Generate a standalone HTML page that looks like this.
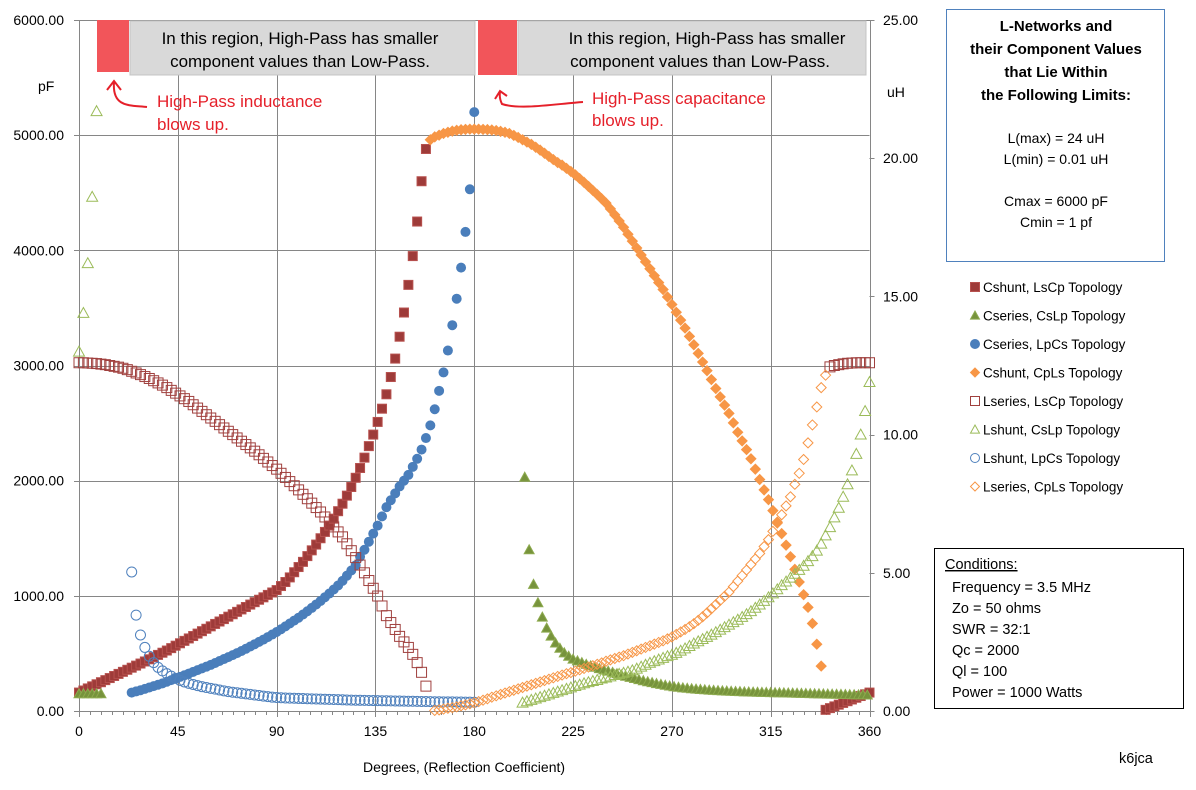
<!DOCTYPE html>
<html><head><meta charset="utf-8">
<style>
html,body{margin:0;padding:0;background:#fff;}
svg{display:block;font-family:"Liberation Sans",Arial,sans-serif;}
</style></head>
<body>
<svg id="chart" width="1196" height="790" viewBox="0 0 1196 790" xmlns="http://www.w3.org/2000/svg">
<rect x="0" y="0" width="1196" height="790" fill="#fff"/>
<g id="grid"></g>
<g id="axes"></g>
<g id="series"></g>

<!-- top annotations -->
<g>
<rect x="97" y="20" width="32" height="52" fill="#F2555A"/>
<rect x="130" y="21" width="345" height="54" fill="#D9D9D9" stroke="#C4C4C4"/>
<text x="300" y="44" font-size="17" text-anchor="middle" fill="#000">In this region, High-Pass has smaller</text>
<text x="300" y="67" font-size="17" text-anchor="middle" fill="#000">component values than Low-Pass.</text>
<rect x="478" y="20" width="39" height="55" fill="#F2555A"/>
<rect x="518" y="21" width="348" height="54" fill="#D9D9D9" stroke="#C4C4C4"/>
<text x="707" y="44" font-size="17" text-anchor="middle" fill="#000">In this region, High-Pass has smaller</text>
<text x="700" y="67" font-size="17" text-anchor="middle" fill="#000">component values than Low-Pass.</text>
<text x="157" y="107" font-size="17" fill="#E5202A">High-Pass inductance</text>
<text x="157" y="130" font-size="17" fill="#E5202A">blows up.</text>
<path d="M147,107 C130,105 112,108 114,82 M107,90 L114,81 L121,90" fill="none" stroke="#E5202A" stroke-width="2"/>
<text x="592" y="104" font-size="17" fill="#E5202A">High-Pass capacitance</text>
<text x="592" y="126" font-size="17" fill="#E5202A">blows up.</text>
<path d="M583,102 C555,104 520,110 502,104 Q499,98 500,92 M495,99 L500,91 L507,96" fill="none" stroke="#E5202A" stroke-width="2"/>
</g>

<!-- info box -->
<g>
<rect x="946.5" y="9.5" width="218" height="252" fill="#fff" stroke="#4F81BD"/>
<g font-size="15" font-weight="bold" text-anchor="middle" fill="#000">
<text x="1056" y="31">L-Networks and</text>
<text x="1056" y="54">their Component Values</text>
<text x="1056" y="77">that Lie Within</text>
<text x="1056" y="100">the Following Limits:</text>
</g>
<g font-size="14" text-anchor="middle" fill="#000">
<text x="1056" y="143">L(max) = 24 uH</text>
<text x="1056" y="164">L(min) = 0.01 uH</text>
<text x="1056" y="206">Cmax = 6000 pF</text>
<text x="1056" y="227">Cmin = 1 pf</text>
</g>
</g>

<g id="legend"></g>

<!-- conditions -->
<g>
<rect x="934.5" y="548.5" width="249" height="160" fill="#fff" stroke="#000"/>
<g font-size="14.5" fill="#000">
<text x="945" y="569" text-decoration="underline">Conditions:</text>
<text x="952" y="592">Frequency = 3.5 MHz</text>
<text x="952" y="613">Zo = 50 ohms</text>
<text x="952" y="634">SWR = 32:1</text>
<text x="952" y="655">Qc = 2000</text>
<text x="952" y="676">Ql =  100</text>
<text x="952" y="697">Power = 1000 Watts</text>
</g>
</g>
<text x="1119" y="763" font-size="14.5" fill="#000">k6jca</text>
</svg>
<script>
// ---- data ----
const xTicks = [0,45,90,135,180,225,270,315,360];
const leftTicks = ["0.00","1000.00","2000.00","3000.00","4000.00","5000.00","6000.00"];
const rightTicks = ["0.00","5.00","10.00","15.00","20.00","25.00"];
const legendLabels = ["Cshunt, LsCp Topology","Cseries, CsLp Topology","Cseries, LpCs Topology","Cshunt, CpLs Topology","Lseries, LsCp Topology","Lshunt, CsLp Topology","Lshunt, LpCs Topology","Lseries, CpLs Topology"];
const stepDeg = 2;

// Cshunt LsCp (pF)
const cshuntLsCpStart = [0, 340];
const cshuntLsCpA = [160,178,196,214,232,250,268,286,304,322,340,358,376,394,412,430,449,468,487,506,525,546,567,588,609,630,651,672,693,714,735,756,777,798,819,840,861,882,903,924,945,966,987,1008,1029,1050,1085,1120,1160,1205,1250,1295,1345,1395,1445,1500,1555,1610,1670,1735,1800,1870,1945,2025,2110,2200,2300,2400,2510,2625,2750,2900,3060,3250,3460,3700,3950,4250,4600,4880];
const cshuntLsCpB = [10,25,40,55,70,85,100,115,130,145,160];
// Cseries CsLp (pF)
const cseriesCsLpStart = [0, 203];
const cseriesCsLpA = [150,150,150,150,150,150];
const cseriesCsLpB = [2030,1400,1100,940,815,720,650,590,545,505,475,450,435,420,405,392,380,368,357,346,335,324,313,302,292,282,272,263,254,246,238,231,224,217,211,206,201,197,193,190,187,184,181,179,177,175,173,171,169,168,166,165,164,163,162,161,160,159,158,157,156,155,154,153,152,151,150,149,148,147,146,145,144,143,142,141,140,140,139];
// Cseries LpCs (pF)
const cseriesLpCsStart = [24];
const cseriesLpCs = [160,170,180,192,204,216,228,240,254,268,282,296,310,325,340,355,370,385,400,417,434,451,468,485,503,521,540,560,580,600,620,642,664,686,710,735,760,785,810,838,866,895,925,955,988,1020,1055,1090,1130,1175,1220,1265,1340,1400,1470,1540,1610,1690,1770,1830,1890,1950,2000,2050,2120,2190,2270,2370,2480,2620,2780,2940,3130,3350,3580,3850,4160,4530,5200];
// Cshunt CpLs (pF)
const cshuntCpLsStart = [160];
const cshuntCpLs = [4960,4985,5000,5015,5025,5035,5042,5047,5050,5052,5052,5052,5050,5048,5045,5040,5033,5025,5015,4998,4980,4960,4940,4920,4895,4870,4843,4815,4788,4762,4740,4712,4685,4655,4623,4590,4555,4520,4485,4448,4410,4360,4308,4255,4200,4140,4080,4020,3960,3900,3840,3780,3720,3660,3595,3530,3462,3394,3325,3253,3180,3105,3030,2955,2878,2800,2728,2656,2584,2502,2420,2345,2270,2190,2100,2010,1920,1835,1740,1640,1540,1440,1340,1230,1120,1010,900,760,580,390];
// Lseries LsCp (uH)
const lseriesLsCpStart = [0, 342];
const lseriesLsCpA = [12.6,12.6,12.59,12.58,12.57,12.55,12.53,12.5,12.47,12.44,12.4,12.35,12.29,12.23,12.17,12.1,12.03,11.95,11.87,11.79,11.7,11.6,11.5,11.4,11.3,11.2,11.08,10.96,10.84,10.72,10.6,10.48,10.36,10.24,10.12,10.0,9.88,9.76,9.64,9.52,9.4,9.27,9.14,9.01,8.88,8.75,8.6,8.45,8.3,8.15,8.0,7.84,7.68,7.52,7.36,7.2,7.02,6.84,6.66,6.48,6.3,6.05,5.8,5.55,5.28,5.0,4.72,4.44,4.16,3.8,3.45,3.2,2.95,2.7,2.5,2.3,2.05,1.75,1.4,0.9];
const lseriesLsCpB = [12.45,12.5,12.53,12.56,12.58,12.59,12.6,12.6,12.6,12.6];
// Lshunt CsLp (uH)
const lshuntCsLpStart = [0, 202];
const lshuntCsLpA = [13.0,14.4,16.2,18.6,21.7];
const lshuntCsLpB = [0.3,0.35,0.4,0.45,0.5,0.55,0.6,0.65,0.7,0.75,0.8,0.85,0.9,0.95,1.0,1.04,1.08,1.12,1.17,1.21,1.25,1.3,1.34,1.38,1.42,1.47,1.53,1.6,1.67,1.74,1.8,1.86,1.92,1.98,2.03,2.1,2.18,2.26,2.35,2.44,2.52,2.6,2.68,2.76,2.85,2.94,3.03,3.12,3.21,3.3,3.4,3.5,3.61,3.73,3.85,3.98,4.11,4.25,4.4,4.55,4.68,4.82,4.96,5.1,5.25,5.42,5.6,5.8,6.05,6.35,6.65,7.0,7.35,7.75,8.2,8.7,9.3,10.0,10.85,11.9];
// Lshunt LpCs (uH)
const lshuntLpCsStart = [24];
const lshuntLpCs = [5.03,3.47,2.75,2.3,1.98,1.75,1.58,1.45,1.35,1.26,1.18,1.11,1.05,1.0,0.96,0.92,0.88,0.85,0.82,0.79,0.76,0.73,0.7,0.68,0.66,0.64,0.62,0.6,0.58,0.56,0.54,0.52,0.5,0.49,0.48,0.47,0.465,0.46,0.455,0.45,0.445,0.44,0.435,0.43,0.425,0.42,0.415,0.41,0.405,0.4,0.395,0.39,0.387,0.384,0.381,0.378,0.375,0.372,0.369,0.366,0.363,0.36,0.357,0.354,0.351,0.348,0.345,0.342,0.339,0.336,0.334,0.332,0.33,0.328,0.326,0.324,0.322,0.32,0.318];
// Lseries CpLs (uH)
const lseriesCpLsStart = [162];
const lseriesCpLs = [0.02,0.04,0.07,0.1,0.12,0.15,0.19,0.22,0.26,0.3,0.34,0.39,0.44,0.5,0.55,0.6,0.65,0.7,0.75,0.8,0.85,0.9,0.95,1.0,1.05,1.1,1.15,1.2,1.25,1.3,1.35,1.39,1.44,1.49,1.54,1.59,1.64,1.69,1.74,1.8,1.85,1.9,1.95,2.0,2.06,2.12,2.18,2.24,2.3,2.36,2.42,2.48,2.54,2.61,2.68,2.77,2.86,2.95,3.05,3.16,3.28,3.41,3.55,3.7,3.85,4.0,4.15,4.3,4.5,4.7,4.9,5.1,5.3,5.5,5.7,5.95,6.2,6.5,6.8,7.1,7.42,7.75,8.2,8.6,9.1,9.7,10.35,11.0,11.7,12.15];

// ---- scales ----
const PX0 = 79, PX1 = 869.5, PY0 = 711, PY1 = 20;
const xS = d => PX0 + d / 360 * (PX1 - PX0);
const yL = v => PY0 - v / 6000 * (PY0 - PY1);
const yR = v => PY0 - v / 25 * (PY0 - PY1);
const NS = "http://www.w3.org/2000/svg";
function mk(tag, attrs, parent) {
  const e = document.createElementNS(NS, tag);
  for (const k in attrs) e.setAttribute(k, attrs[k]);
  parent.appendChild(e);
  return e;
}
const grid = document.getElementById('grid');
const axes = document.getElementById('axes');
const series = document.getElementById('series');
const legend = document.getElementById('legend');

// gridlines
for (let i = 1; i < leftTicks.length; i++) {
  const y = Math.round(yL(i * 1000)) + 0.5;
  const l = mk('line', {x1: PX0, x2: PX1, y1: y, y2: y, stroke: '#868686', 'stroke-width': 1}, grid);
  
  
}
xTicks.forEach(d => {
  if (d === 0) return;
  const x = Math.round(xS(d)) + 0.5;
  const l = mk('line', {x1: x, x2: x, y1: PY1, y2: PY0, stroke: '#868686', 'stroke-width': 1}, grid);
  
  
});
// axes lines
const ax = mk('line', {x1: PX0 + 0.5, x2: PX0 + 0.5, y1: PY1, y2: PY0 + 5, stroke: '#868686'}, axes);


const axb = mk('line', {x1: PX0 - 5, x2: PX1, y1: PY0 + 0.5, y2: PY0 + 0.5, stroke: '#868686'}, axes);


const axr = mk('line', {x1: Math.round(PX1) + 0.5, x2: Math.round(PX1) + 0.5, y1: PY1, y2: PY0 + 5, stroke: '#868686'}, axes);


// minor x ticks every 5 degrees
for (let d = 0; d <= 360; d += 5) {
  const x = Math.round(xS(d)) + 0.5;
  const t = mk('line', {x1: x, x2: x, y1: PY0, y2: PY0 + (d % 45 === 0 ? 6 : 4), stroke: '#868686'}, axes);
  
  
}
xTicks.forEach(d => {
  const t = mk('text', {x: xS(d), y: 736, 'font-size': 14, 'text-anchor': 'middle', fill: '#000'}, axes);
  t.textContent = String(d);
  
  
});
leftTicks.forEach((s, i) => {
  const y = yL(i * 1000);
  const tk = mk('line', {x1: PX0 - 5, x2: PX0, y1: Math.round(y) + 0.5, y2: Math.round(y) + 0.5, stroke: '#868686'}, axes);
  
  
  const t = mk('text', {x: 64, y: y + 5, 'font-size': 14, 'text-anchor': 'end', fill: '#000'}, axes);
  t.textContent = s;
  
  
});
rightTicks.forEach((s, i) => {
  const y = yR(i * 5);
  const tk = mk('line', {x1: PX1, x2: PX1 + 5, y1: Math.round(y) + 0.5, y2: Math.round(y) + 0.5, stroke: '#868686'}, axes);
  
  
  const t = mk('text', {x: 883, y: y + 5, 'font-size': 14, 'text-anchor': 'start', fill: '#000'}, axes);
  t.textContent = s;
  
  
});
const lu = mk('text', {x: 38, y: 91, 'font-size': 14, fill: '#000'}, axes);
lu.textContent = 'pF';


const ru = mk('text', {x: 887, y: 97, 'font-size': 14, fill: '#000'}, axes);
ru.textContent = 'uH';


const xt = mk('text', {x: 464, y: 772, 'font-size': 14, 'text-anchor': 'middle', fill: '#000'}, axes);
xt.textContent = 'Degrees, (Reflection Coefficient)';



// markers
const styles = [
  {shape: 'sq', fill: '#9E3B39', stroke: '#B7514E', s: 9},
  {shape: 'tri', fill: '#77933C', stroke: '#8DAA4E', s: 10},
  {shape: 'circ', fill: '#4A7EBB', stroke: '#4A7EBB', s: 9},
  {shape: 'dia', fill: '#F79646', stroke: '#F79646', s: 10},
  {shape: 'sq', fill: 'none', stroke: '#A0403E', s: 10},
  {shape: 'tri', fill: 'none', stroke: '#9BBB59', s: 11},
  {shape: 'circ', fill: 'none', stroke: '#4F81BD', s: 10},
  {shape: 'dia', fill: 'none', stroke: '#F79646', s: 10}
];
function marker(st, x, y, parent) {
  const h = st.s / 2;
  let e;
  if (st.shape === 'sq') e = mk('rect', {x: x - h, y: y - h, width: st.s, height: st.s}, parent);
  else if (st.shape === 'circ') e = mk('circle', {cx: x, cy: y, r: h}, parent);
  else if (st.shape === 'tri') e = mk('polygon', {points: `${x},${y - h} ${x + h},${y + h * 0.8} ${x - h},${y + h * 0.8}`}, parent);
  else e = mk('polygon', {points: `${x},${y - h} ${x + h},${y} ${x},${y + h} ${x - h},${y}`}, parent);
  e.setAttribute('fill', st.fill);
  e.setAttribute('stroke', st.stroke);
  e.setAttribute('stroke-width', 1);
  return e;
}
function drawSeries(idx, name, starts, arrays, yScale) {
  const g = mk('g', {}, series);
  
  
  arrays.forEach((arr, k) => {
    arr.forEach((v, i) => {
      const d = starts[k] + i * stepDeg;
      const m = marker(styles[idx], xS(d), yScale(v), g);
      
      
    });
  });
}
drawSeries(0, 'cshunt-lscp-series', cshuntLsCpStart, [cshuntLsCpA, cshuntLsCpB], yL);
drawSeries(1, 'cseries-cslp-series', cseriesCsLpStart, [cseriesCsLpA, cseriesCsLpB], yL);
drawSeries(2, 'cseries-lpcs-series', cseriesLpCsStart, [cseriesLpCs], yL);
drawSeries(3, 'cshunt-cpls-series', cshuntCpLsStart, [cshuntCpLs], yL);
drawSeries(4, 'lseries-lscp-series', lseriesLsCpStart, [lseriesLsCpA, lseriesLsCpB], yR);
drawSeries(5, 'lshunt-cslp-series', lshuntCsLpStart, [lshuntCsLpA, lshuntCsLpB], yR);
drawSeries(6, 'lshunt-lpcs-series', lshuntLpCsStart, [lshuntLpCs], yR);
drawSeries(7, 'lseries-cpls-series', lseriesCpLsStart, [lseriesCpLs], yR);

// legend
legendLabels.forEach((lab, i) => {
  const y = 287 + i * 28.5;
  const st = Object.assign({}, styles[i], {s: 9});
  const m = marker(st, 975, y, legend);
  
  
  const t = mk('text', {x: 983, y: y + 5, 'font-size': 13.5, fill: '#000'}, legend);
  t.textContent = lab;
  
  
});
</script>
</body></html>
